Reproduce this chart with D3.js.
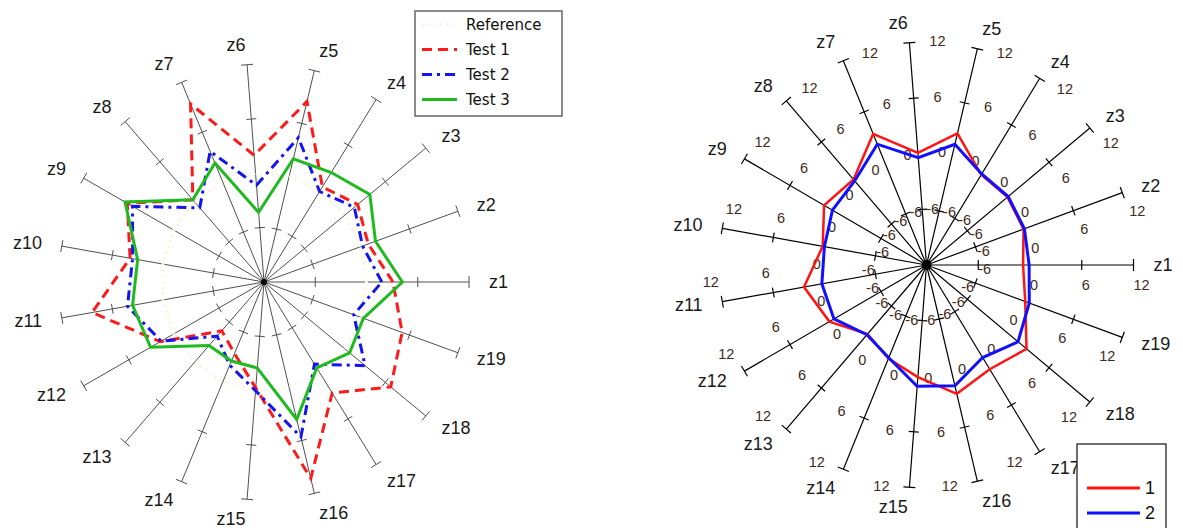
<!DOCTYPE html>
<html>
<head>
<meta charset="utf-8">
<script src="https://cdn.jsdelivr.net/npm/d3@7"></script>
<style>
  body { margin: 0; background: #ffffff; }
  svg { display: block; }
</style>
</head>
<body>
<svg id="chart" width="1183" height="528"></svg>
<script>
// ---- data ----
const axisNames = ["z1","z2","z3","z4","z5","z6","z7","z8","z9","z10",
                   "z11","z12","z13","z14","z15","z16","z17","z18","z19"];
const gridTicks = [-6, 6];          // tick marks drawn on each spoke
const tickValues = [-6, 0, 6, 12];  // labelled positions on the right chart
const tickLabels = ["-6", "0", "6", "12"];

// left chart series
const reference = [0, 0, 0, 0, 0, 0, 0, 0, 0, 0, 0, 0, 0, 0, 0, 0, 0, 0, 0];
const test1 = [3.1, 0.9, 1.9, 0.5, 8.5, 2.0, 9.4, 0.3, 6.2, 3.9, 8.4, 1.8, -4.7, -3.4, -0.3, 10.3, 2.6, 6.8, 5.1];
const test2 = [1.8, 0.2, 1.4, -0.1, 4.4, -1.3, 3.7, -0.9, 5.5, 3.6, 4.2, 1.7, -3.9, -2.0, 0.0, 5.6, -1.2, 3.0, -0.9];
const test3 = [4.2, 1.8, 3.7, 2.4, 2.0, -4.3, 2.3, 0.3, 6.5, 3.0, 3.6, 3.1, -2.5, -2.5, -2.5, 3.6, -0.7, 0.7, 0.3];

// right chart series
const run1 = [-0.8, -0.1, -0.1, -0.4, 2.6, 0.1, 3.4, 0.5, 1.5, 0.2, 2.4, 0.8, -1.9, -1.0, 0.1, 2.3, 1.4, 2.7, 0.1];
const run2 = [-0.1, 0.0, 0.0, -0.3, 1.4, -0.4, 2.2, 0.3, 0.4, 0.0, 0.3, 0.2, -1.8, -1.1, 1.1, 1.4, -0.1, 1.45, 0.6];

const leftSeries = [
  { name: "Reference", values: reference, color: "#fcf2df", width: 3, dash: "2,4" },
  { name: "Test 1",    values: test1,     color: "#ff1a1a", width: 3, dash: "10,6" },
  { name: "Test 2",    values: test2,     color: "#1414f0", width: 3, dash: "10,5,3,5" },
  { name: "Test 3",    values: test3,     color: "#1fba1f", width: 3, dash: null }
];
const rightSeries = [
  { name: "1", values: run1, color: "#ff1414", width: 2.5 },
  { name: "2", values: run2, color: "#1010ff", width: 3 }
];

// ---- drawing ----
const svg = d3.select("#chart");
const n = axisNames.length;
const angle = d3.scaleLinear().domain([0, n]).range([0, 2 * Math.PI]);
const frac = d3.scaleLinear().domain([-12, 12]).range([0, 1]);

function makeRadar(opts) {
  const { cx, cy, rx, ry, axisColor, axisWidth, dotR } = opts;
  const g = svg.append("g");
  const pt = (i, v) => {
    const a = angle(i), f = frac(v);
    return [cx + f * rx * Math.cos(a), cy - f * ry * Math.sin(a)];
  };
  const dir = i => {
    const a = angle(i);
    const dx = rx * Math.cos(a), dy = -ry * Math.sin(a);
    const L = Math.hypot(dx, dy);
    return [dx / L, dy / L];
  };
  const perp = i => { const d = dir(i); return [-d[1], d[0]]; };

  // spokes
  g.selectAll("line.spoke").data(axisNames).join("line")
    .attr("class", "spoke")
    .attr("x1", cx).attr("y1", cy)
    .attr("x2", (d, i) => pt(i, 12)[0])
    .attr("y2", (d, i) => pt(i, 12)[1])
    .attr("stroke", axisColor).attr("stroke-width", axisWidth);

  // tick marks and end caps
  const marks = [];
  axisNames.forEach((d, i) => {
    gridTicks.forEach(v => marks.push({ i, v, half: 5 }));
    marks.push({ i, v: 12, half: 6 });
  });
  g.selectAll("line.tick").data(marks).join("line")
    .attr("class", "tick")
    .attr("x1", m => pt(m.i, m.v)[0] - perp(m.i)[0] * m.half)
    .attr("y1", m => pt(m.i, m.v)[1] - perp(m.i)[1] * m.half)
    .attr("x2", m => pt(m.i, m.v)[0] + perp(m.i)[0] * m.half)
    .attr("y2", m => pt(m.i, m.v)[1] + perp(m.i)[1] * m.half)
    .attr("stroke", axisColor).attr("stroke-width", axisWidth);

  g.append("circle").attr("cx", cx).attr("cy", cy).attr("r", dotR).attr("fill", "#000");

  // spoke names
  g.selectAll("text.axis-name").data(axisNames).join("text")
    .attr("class", "axis-name")
    .attr("x", (d, i) => cx + (rx + 20) * Math.cos(angle(i)))
    .attr("y", (d, i) => cy - (ry + 20) * Math.sin(angle(i)))
    .attr("text-anchor", (d, i) => Math.cos(angle(i)) >= 0 ? "start" : "end")
    .attr("dominant-baseline", "central")
    .attr("font-family", "'Liberation Sans', Arial, sans-serif")
    .attr("font-size", 18)
    .attr("fill", "#1a1a1a")
    .text(d => d);

  return { g, pt, dir, perp };
}

function drawSeries(radar, series) {
  const line = d3.line().curve(d3.curveLinearClosed);
  radar.g.selectAll("path.series").data(series).join("path")
    .attr("class", "series")
    .attr("d", s => line(s.values.map((v, i) => radar.pt(i, v))))
    .attr("fill", "none")
    .attr("stroke", s => s.color)
    .attr("stroke-width", s => s.width)
    .attr("stroke-dasharray", s => s.dash)
    .attr("stroke-linejoin", "miter");
}

// left chart
const left = makeRadar({ cx: 264, cy: 282, rx: 205, ry: 218, axisColor: "#505050", axisWidth: 1, dotR: 3 });
drawSeries(left, leftSeries);

// left legend
const lg = svg.append("g").attr("transform", "translate(415,11)");
lg.append("rect").attr("width", 147).attr("height", 105)
  .attr("fill", "#fff").attr("stroke", "#666").attr("stroke-width", 1.5);
const lrow = lg.selectAll("g.row").data(leftSeries).join("g")
  .attr("class", "row")
  .attr("transform", (d, i) => `translate(0,${13.5 + i * 25})`);
lrow.append("line").attr("x1", 7).attr("x2", 42).attr("y1", 0).attr("y2", 0)
  .attr("stroke", d => d.color).attr("stroke-width", 3)
  .attr("stroke-dasharray", d => d.dash);
lrow.append("text").attr("x", 51).attr("y", 0)
  .attr("dominant-baseline", "central")
  .attr("font-family", "'DejaVu Sans', Verdana, sans-serif")
  .attr("font-size", 15).attr("fill", "#111")
  .text(d => d.name);

// right chart
const right = makeRadar({ cx: 926.5, cy: 265, rx: 207, ry: 223, axisColor: "#000", axisWidth: 1.2, dotR: 5 });

// value labels along each spoke of the right chart
const valueLabels = [];
axisNames.forEach((d, i) => tickValues.forEach((v, k) => valueLabels.push({ i, v, text: tickLabels[k] })));
right.g.selectAll("text.value").data(valueLabels).join("text")
  .attr("class", "value")
  .attr("x", m => right.pt(m.i, m.v)[0] + right.perp(m.i)[0] * (m.v === -6 ? 4 : 20))
  .attr("y", m => right.pt(m.i, m.v)[1] + right.perp(m.i)[1] * (m.v === -6 ? 4 : 20))
  .attr("text-anchor", m => right.perp(m.i)[0] >= -0.01 ? "start" : "end")
  .attr("dominant-baseline", "central")
  .attr("font-family", "'Liberation Sans', Arial, sans-serif")
  .attr("font-size", 14.5)
  .attr("fill", "#3f2a1c")
  .text(m => m.text);

drawSeries(right, rightSeries);

// right legend
const rg = svg.append("g").attr("transform", "translate(1077,444)");
rg.append("rect").attr("width", 89).attr("height", 100)
  .attr("fill", "#fff").attr("stroke", "#111").attr("stroke-width", 1.2);
const rrow = rg.selectAll("g.row").data(rightSeries).join("g")
  .attr("class", "row")
  .attr("transform", (d, i) => `translate(0,${44 + i * 25})`);
rrow.append("line").attr("x1", 10).attr("x2", 63).attr("y1", 0).attr("y2", 0)
  .attr("stroke", d => d.color).attr("stroke-width", 3);
rrow.append("text").attr("x", 68).attr("y", 0)
  .attr("dominant-baseline", "central")
  .attr("font-family", "'Liberation Sans', Arial, sans-serif")
  .attr("font-size", 18).attr("fill", "#111")
  .text(d => d.name);
</script>
</body>
</html>
